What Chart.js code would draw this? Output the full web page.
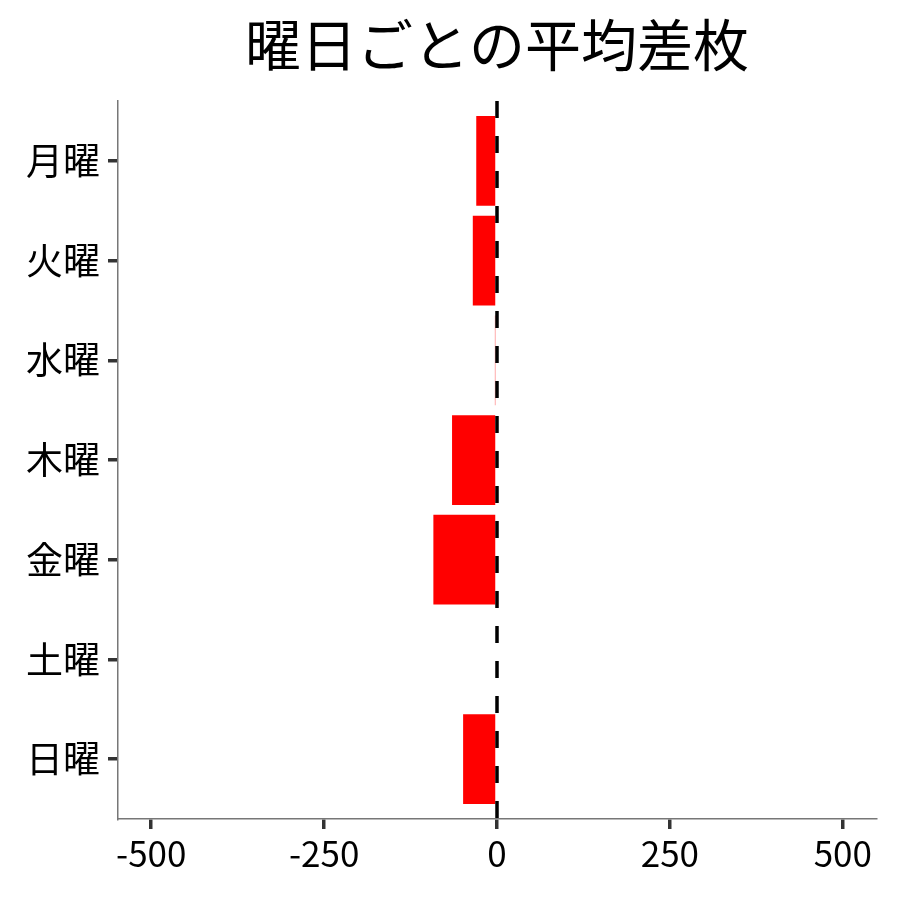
<!DOCTYPE html>
<html lang="ja">
<head>
    <meta charset="UTF-8" />
    <title>曜日ごとの平均差枚</title>
    <script src="https://cdn.jsdelivr.net/npm/chart.js"></script>
    <style>
        body { margin: 0; background: #fff; }
        canvas { display: block; }
    </style>
</head>
<body>
<canvas id="chart" width="900" height="900"></canvas>
<script>
    const days = ['月曜', '火曜', '水曜', '木曜', '金曜', '土曜', '日曜'];
    const avgDiff = [-30, -35, -3, -65, -92, 0, -49];
    const xTicks = [-500, -250, 0, 250, 500];

    const FONT = '"Noto Sans CJK JP", "Noto Sans", sans-serif';

    // ggplot-style title centred over the panel, and the dashed zero line
    const extras = {
        id: 'extras',
        afterDatasetsDraw(chart) {
            const { ctx, chartArea } = chart;
            const x0 = chart.scales.x.getPixelForValue(0);
            ctx.save();
            ctx.strokeStyle = '#000';
            ctx.lineWidth = 3.5;
            ctx.setLineDash([17, 18]);
            ctx.beginPath();
            ctx.moveTo(x0, chartArea.top);
            ctx.lineTo(x0, chartArea.bottom);
            ctx.stroke();
            ctx.restore();
        },
        afterDraw(chart) {
            const { ctx, chartArea } = chart;
            ctx.save();
            ctx.fillStyle = '#000';
            ctx.font = '56px ' + FONT;
            ctx.textAlign = 'center';
            ctx.textBaseline = 'middle';
            ctx.fillText('曜日ごとの平均差枚', (chartArea.left + chartArea.right) / 2, 45);
            ctx.restore();
        }
    };

    const tickGrid = {
        offset: false,
        drawOnChartArea: false,
        drawTicks: true,
        tickLength: 10,
        tickColor: '#333',
        tickWidth: 3.5,
        lineWidth: 3.5
    };

    new Chart(document.getElementById('chart'), {
        type: 'bar',
        data: {
            datasets: [{
                data: avgDiff.map((v, i) => ({ x: v, y: i + 1 })),
                backgroundColor: '#ff0000',
                borderWidth: 0,
                barPercentage: 0.9,
                categoryPercentage: 1
            }]
        },
        options: {
            indexAxis: 'y',
            responsive: false,
            animation: false,
            devicePixelRatio: 1,
            layout: { padding: { top: 101, right: 24, left: 0, bottom: 0 } },
            plugins: { legend: { display: false }, tooltip: { enabled: false } },
            scales: {
                x: {
                    type: 'linear',
                    min: -548,
                    max: 548,
                    afterBuildTicks: axis => { axis.ticks = xTicks.map(v => ({ value: v })); },
                    afterFit: scale => { scale.height = 81; },
                    grid: tickGrid,
                    border: { color: '#777', width: 1.5 },
                    ticks: { color: '#000', font: { family: FONT, size: 35 }, padding: 4, maxRotation: 0 }
                },
                y: {
                    type: 'linear',
                    reverse: true,
                    offset: false,
                    min: 0.4,
                    max: 7.6,
                    afterBuildTicks: axis => { axis.ticks = days.map((d, i) => ({ value: i + 1 })); },
                    afterFit: scale => { scale.width = 118; },
                    grid: tickGrid,
                    border: { color: '#777', width: 1.5 },
                    ticks: {
                        color: '#000',
                        font: { family: FONT, size: 37 },
                        padding: 8,
                        callback: v => days[v - 1]
                    }
                }
            }
        },
        plugins: [extras]
    });
</script>
</body>
</html>
